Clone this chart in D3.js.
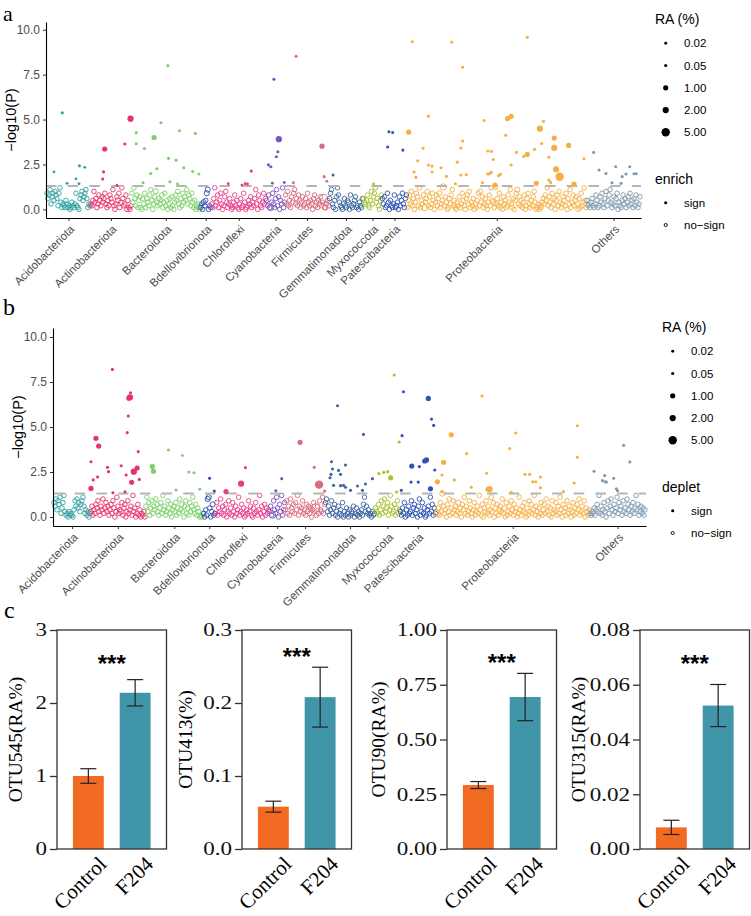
<!DOCTYPE html>
<html>
<head>
<meta charset="utf-8">
<script src="https://cdn.jsdelivr.net/npm/d3@7"></script>
<style>
  body { margin: 0; background: #fff; }
  svg { display: block; }
</style>
</head>
<body>
<svg id="fig" width="751" height="916"></svg>
<script>
// Manhattan plots (enriched / depleted OTUs by phylum) + four OTU bar charts.

const phyla = ['Acidobacteriota', 'Actinobacteriota', 'Bacteroidota', 'Bdellovibrionota', 'Chloroflexi',
  'Cyanobacteria', 'Firmicutes', 'Gemmatimonadota', 'Myxococcota', 'Patescibacteria', 'Proteobacteria', 'Others'];
const phylumColors = ['#33A0A0', '#E6336A', '#7CCF6A', '#2D4EA6', '#EA3C88', '#7B55BC',
  '#DA6A7E', '#3C66A2', '#A8C234', '#2F52B2', '#F6AE42', '#7F99AF'];

const raBreaks = [0.02, 0.05, 1, 2, 5];
const pTicks = [0, 2.5, 5, 7.5, 10];
const pThreshold = 1.301;

// non-significant OTUs, -log10(P) in plot order per phylum; [y, RA] where RA is not small
const enrichNoSign = [
  [0.9,0.6,0.8,1.1,0.3,0.7,0.9,0.5,1.0,0.8, 0.6,0.2,0.9,1.2,0.4,0.1,0.3,0.2,0.1,0.5,
   0.3,0.1,0.2,0.0,0.1,0.4,0.2,0.1,0.3,0.9, 0.2,0.1,0.0,0.6,0.8,1.0,0.5,0.7,0.9,1.1, 0.6,0.1,0.3,0.2],
  [0.3,0.2,0.5,1.0,0.4,0.6,0.1,0.3,0.8,0.5, 0.2,0.7,0.4,0.6,0.9,0.3,0.1,0.5,0.2,0.8,
   0.6,0.4,1.1,0.2,0.0,0.3,0.7,[0.5,1],0.9,0.1, 0.4,1.2,0.6,0.2,0.3,0.8,0.0,0.5,0.1,0.0, 0.2],
  [0.9,0.4,1.2,0.6,0.2,0.8,0.1,0.5,0.7,0.1, 0.0,0.6,0.3,0.9,0.1,0.6,0.4,0.2,0.8,1.1,
   0.5,0.0,0.3,0.7,[1.0,1],0.4,0.2,0.6,[0.3,1],0.5, 0.8,0.1,0.4,0.9,0.2,0.5,0.0,0.3,0.6,0.1,
   0.7,0.2,0.0,0.4,0.8,0.5,1.0,0.3,0.1,0.6, 0.2,0.9,0.4,0.7,0.5,1.1,0.3,0.8,0.6,0.2, 0.9,0.4,0.1,0.5,0.0,0.2,0.1,0.3,0.0],
  [0.1,0.3,0.0,[0.4,1],0.2,0.5,[0.9,1],[1.1,1],0.0,0.2,0.1],
  [0.3,0.1,0.6,1.2,0.2,0.4,0.8,0.1,0.5,0.9, 0.3,0.0,0.2,0.7,1.0,0.4,0.1,0.3,0.6,0.2,
   0.0,0.1,0.4,0.8,0.2,0.5,0.1,0.0,0.3,0.6, 0.1,0.2,0.9,0.4,0.0,0.1,0.2,0.5,0.3,0.7,
   0.1,0.4,0.2,0.6,1.1,0.3,0.0,0.8,0.5,0.2, 0.1,0.4,0.9,0.3,0.6],
  [0.5,0.2,0.8,0.1,[0.1,2],0.4,0.9,0.3,0.1,0.6, 1.1,0.2,0.7,0.0,0.5,0.3,1.2,0.1,0.4],
  [0.8,0.3,1.0,0.2,0.5,0.1,0.7,0.4,0.9,1.1, 0.3,0.6,0.2,0.8,0.5,0.1,0.4,0.7,0.2,0.3,
   0.6,0.1,0.9,0.4,0.2,0.5,0.3,0.0,0.6,0.8, 0.2,0.4,0.1,0.5,0.3,0.7,0.2,0.4,[0.6,5],0.1, [0.1,1],0.3,0.5,0.2],
  [0.6,0.9,1.1,0.3,0.1,0.5,0.0,0.7,1.2,0.8, 0.4,0.2,0.1,0.0,0.3,0.6,0.2,0.1,0.5,0.4,
   0.0,0.8,0.2,0.1,0.3,0.5,0.7,0.1,0.2,0.0, 0.4,0.2,0.1,0.6],
  [0.6,0.4,0.3,[0.5,1],0.8,0.2,0.1,0.5,1.0,0.3, 0.7,0.9,1.2,0.4,0.6,0.2,0.0,0.5,0.8],
  [0.6,0.3,0.7,0.1,0.2,0.9,0.4,0.0,0.5,0.2, 0.1,0.3,0.8,0.1,[0.2,1],0.4,0.0,0.7,0.2,0.5, 0.9,0.3,0.1,0.6,0.8],
  [0.1,0.5,0.8,0.3,1.0,0.2,0.6,0.0,0.4,0.9, 0.7,0.2,1.2,0.1,0.5,0.3,0.8,[0.1,2],0.4,0.6,
   1.0,0.2,0.7,0.1,0.3,0.9,0.5,0.0,0.4,0.8, 0.2,0.6,[0.9,1],0.1,0.3,0.5,[1.25,2],0.2,0.7,0.4,
   0.0,0.1,0.6,0.3,0.8,1.1,0.2,0.5,0.1,0.0, 0.4,0.2,0.7,0.1,0.3,0.9,0.5,0.2,0.0,0.6,
   0.8,0.3,1.0,0.1,0.4,0.2,0.6,0.0,0.3,0.1, 0.5,0.9,0.2,[1.0,1],0.4,0.7,0.1,0.3,0.6,0.2,
   0.0,0.4,0.8,0.2,1.2,0.5,[0.4,1],0.1,[1.25,1],0.3, 0.6,0.2,0.9,0.1,0.4,0.0,0.7,0.3,0.5,0.1,
   0.2,0.8,0.4,1.1,0.3,0.1,0.6,0.0,0.5,0.9, [1.1,1],0.3,0.7,0.2,0.5,0.1,0.4,0.8,0.0,0.2,
   0.6,0.9,0.3,0.1,0.5,0.2,0.7,1.0,0.4,0.0, 0.1,0.3,0.0,0.2,0.1,0.4,0.6,0.3,0.8,0.5,
   1.2,0.2,0.7,0.4,0.1,0.9,0.3,0.6,0.0,0.5, 0.8,0.2,1.0,0.4,0.1,0.3,0.7,0.5,0.2,0.9,
   0.0,0.6,0.3,1.1,0.1,0.4,0.8,0.2,0.5,0.7, 0.3,0.0,0.6,0.1,0.9,0.2,0.4,1.2,0.5,0.1],
  [0.5,0.2,0.3,0.1,0.4,0.6,0.2,0.1,0.3,0.8, 0.5,0.1,0.2,0.7,0.4,0.9,0.3,0.1,0.6,1.0,
   0.2,0.5,0.8,1.1,0.4,0.1,0.3,0.7,0.2,0.6, 0.9,0.0,0.4,0.2,0.1,0.5,0.8,0.3,0.6,0.1,
   0.4,0.7,0.2,0.9,0.3,0.5,0.1,0.6,0.2,0.8, 0.4,0.1,0.3,0.7]
];

// significant enriched OTUs: [phylum, position within phylum 0-1, -log10(P), RA %]
const enrichSign = [
  [0,0.36,5.38,0.05],[0,0.17,2.09,0.02],[0,0.75,2.43,0.05],[0,0.87,2.34,0.02],[0,0.67,1.70,0.02],
  [0,0.47,1.45,0.02],[0,0.74,1.43,0.02],
  [1,0.35,3.36,1],[1,0.32,2.09,0.05],[1,0.30,1.69,0.05],[1,0.84,3.64,0.05],[1,0.98,5.05,2],[1,0.65,1.33,0.02],
  [2,0.53,8.0,0.05],[2,0.07,4.27,0.05],[2,0.07,3.65,0.05],[2,0.19,3.39,0.05],[2,0.33,4.0,1],[2,0.43,4.82,0.05],
  [2,0.70,4.38,0.05],[2,0.93,4.23,0.05],[2,0.54,2.84,0.05],[2,0.65,2.74,0.05],[2,0.37,2.26,0.05],
  [2,0.76,2.32,0.05],[2,0.28,2.0,0.05],[2,0.89,2.11,0.05],[2,0.98,1.96,0.02],[2,0.56,1.54,0.05],
  [2,0.17,1.48,0.05],[2,0.67,1.41,0.02],
  [4,0.31,1.43,0.02],[4,0.62,1.43,0.02],[4,0.73,2.13,0.05],[4,0.56,1.35,0.02],[4,0.66,1.41,0.02],
  [5,0.41,7.24,0.05],[5,0.67,3.91,2],[5,0.62,3.21,0.05],[5,0.54,2.93,0.05],[5,0.12,2.48,0.05],
  [5,0.25,2.37,0.05],[5,0.33,1.46,0.02],[5,0.96,1.50,0.02],
  [6,0.25,8.52,0.05],[6,0.84,3.52,1],[6,0.89,1.82,0.05],[6,0.95,1.56,0.02],[6,0.19,1.48,0.02],
  [7,0.12,1.91,0.05],
  [8,0.56,1.41,0.02],
  [9,0.28,4.32,0.05],[9,0.43,4.28,0.05],[9,0.23,3.47,0.05],[9,0.84,3.30,0.05],
  [10,0.03,9.33,0.05],[10,0.25,9.31,0.05],[10,0.31,7.91,0.05],[10,0.12,5.19,0.05],[10,0.43,4.95,0.05],
  [10,0.01,4.30,1],[10,0.09,3.40,0.05],[10,0.31,3.80,0.05],[10,0.30,3.41,0.05],[10,0.28,2.63,0.05],
  [10,0.06,2.71,0.05],[10,0.12,2.47,0.05],[10,0.14,2.41,0.05],[10,0.19,2.32,0.05],[10,0.04,2.08,0.05],
  [10,0.14,2.08,0.05],[10,0.05,1.78,0.05],[10,0.22,1.84,0.05],[10,0.30,1.91,0.05],[10,0.33,1.93,0.05],
  [10,0.45,3.25,0.05],[10,0.45,1.97,0.05],[10,0.27,1.43,0.05],[10,0.42,1.48,0.05],
  [10,0.67,9.58,0.05],[10,0.56,5.05,1],[10,0.58,5.18,1],[10,0.76,4.9,0.05],[10,0.74,4.49,2],
  [10,0.55,4.12,0.05],[10,0.82,3.97,1],[10,0.75,3.67,0.05],[10,0.90,3.56,1],[10,0.82,3.43,2],
  [10,0.71,3.34,0.05],[10,0.61,3.17,0.05],[10,0.67,3.06,1],[10,0.65,2.95,0.05],[10,0.79,2.90,0.05],
  [10,0.47,3.23,0.05],[10,0.48,2.78,0.05],[10,0.985,2.82,0.05],[10,0.58,2.47,0.05],[10,0.83,2.23,2],
  [10,0.85,1.82,5],[10,0.47,2.07,0.05],[10,0.46,1.98,0.05],[10,0.52,1.95,0.05],[10,0.51,1.87,0.05],
  [10,0.79,1.63,0.05],[10,0.80,1.50,0.05],[10,0.49,1.35,1],[10,0.72,1.45,1],[10,0.93,1.41,1],
  [11,0.13,3.17,0.05],[11,0.54,2.37,0.05],[11,0.80,2.37,0.05],[11,0.23,2.19,0.05],[11,0.36,2.0,0.05],
  [11,0.66,1.82,0.05],[11,0.88,1.98,0.05],[11,0.92,1.98,0.05],[11,0.73,1.97,0.05],[11,0.64,1.45,0.05],
  [11,0.47,1.48,0.05]
];

const depletNoSign = [
  [0.8,0.6,1.0,0.4,0.9,0.7,1.1,0.2,0.5,0.8, 1.2,0.3,0.1,0.2,0.0,0.3,0.1,0.2,0.1,0.0,
   0.4,0.9,0.6,1.0,0.5,0.8,0.3,0.7,0.9,1.1, 0.6,0.2,0.4,0.1,0.3,0.0,0.2],
  [0.3,0.6,0.1,0.4,0.2,0.7,0.5,0.9,0.3,0.1, 0.6,0.4,1.0,0.2,0.5,0.8,0.3,0.6,0.1,0.4,
   0.7,0.2,0.9,0.5,0.0,0.3,1.1,0.6,0.2,0.4, [0.3,1],0.8,0.1,0.5,0.7,0.0,0.3,0.9,0.2,0.4,
   0.6,0.1,1.2,0.3,0.5,0.0,0.2,0.7,0.1,0.4, 0.0,0.2,0.1,0.3,0.0],
  [0.6,1.1,0.3,0.8,0.1,0.5,0.9,0.2,0.6,0.4, 1.0,0.7,0.3,0.1,0.5,0.8,0.2,1.2,0.4,0.6,
   0.1,0.3,0.9,0.5,0.2,0.7,0.0,0.4,0.6,0.3, 0.8,0.1,0.5,0.2,1.0,0.4,0.7,0.3,0.0,0.6,
   0.9,0.2,0.5,0.1,0.8,0.3,0.6,1.1,0.4,0.2, 0.7,0.1,0.5,0.3,0.0,0.1,0.0,0.2],
  [0.2,0.0,0.4,0.1,[1.0,1],[1.1,1],0.5,0.0,0.3,[0.7,1],0.1,0.2],
  [0.2,0.8,0.1,0.5,0.3,1.0,0.2,0.6,0.1,0.4, 0.7,0.0,0.3,0.9,0.2,0.5,0.1,0.8,0.3,0.0,
   0.6,0.2,0.4,1.1,0.1,0.3,0.7,0.2,0.5,0.0, 0.1,0.4,0.2,0.9,0.3,0.6,0.1,0.0,0.5,0.2,
   0.8,0.3,0.1,0.4,1.2,0.2,0.6,0.0,0.3,0.7, 0.1,0.5,0.2,0.4],
  [0.3,0.6,0.1,[0.1,2],0.9,0.4,0.2,1.1,0.5,0.0, 0.7,0.3,1.2,0.1,0.4,0.8],
  [0.4,0.9,0.2,0.6,0.1,1.0,0.5,0.3,0.7,0.2, 0.8,0.4,1.2,0.1,0.6,0.3,0.5,0.9,0.2,0.4,
   0.1,0.7,0.3,0.6,0.2,0.5,0.0,0.4,0.8,0.3, [0.5,5],0.1,0.6,0.2,0.9,0.4,0.3,1.1,0.2,0.7],
  [0.8,1.0,0.3,0.6,0.1,0.4,0.9,0.2,0.5,0.7, 0.1,0.3,0.0,0.6,0.2,0.4,0.1,0.8,0.0,0.3,
   0.1,0.5,0.2,0.0,0.4,0.1,0.3,0.2,0.6,0.0, 0.2,0.5,0.1,0.3,0.0,0.2,0.4,0.1,0.7,1.1,
   0.3,0.6,0.2,0.4,0.1,0.2,0.0,0.3,0.1,0.2],
  [0.5,[0.3,1],0.2,0.7,0.1,0.4,0.9,0.2,0.6,1.0, 0.3,[0.5,1],0.8,0.1,0.4,1.2,0.6,0.2,0.3,0.7, 0.1,0.5,0.9,0.2,0.4],
  [0.3,0.1,0.5,0.2,0.8,0.0,0.4,0.1,0.6,0.2, 0.3,0.9,0.1,0.5,0.7,0.2,0.4,0.0,0.6,1.0,
   0.1,0.3,0.8,0.2,0.5,0.0,0.1,0.4,0.6,0.2, 1.1,0.3,0.7,0.1,0.5,0.2],
  [0.2,[0.2,2],0.5,0.1,0.8,0.3,[1.3,1],0.6,0.2,0.4, 0.0,0.7,0.3,1.0,0.1,0.5,0.2,0.9,0.4,0.6,
   0.1,0.3,[0.8,1],0.2,0.5,0.0,0.7,0.4,1.1,0.2, 0.6,0.1,0.3,0.9,0.5,0.2,0.0,0.4,0.8,0.1,
   0.3,0.6,0.2,1.2,0.4,0.1,0.7,0.0,0.5,0.3, 0.9,0.2,0.6,0.1,0.4,[1.1,1],0.3,0.8,0.0,0.5,
   0.2,0.7,0.1,0.4,0.6,0.3,1.0,0.2,0.5,0.0, 0.8,0.1,0.3,0.6,0.2,0.9,0.4,0.1,0.7,0.3,
   0.5,0.0,0.2,1.1,0.4,0.1,0.6,0.3,0.8,0.2, 0.0,0.5,0.1,0.9,0.3,0.7,0.2,0.4,1.2,0.1,
   0.6,0.3,0.0,0.5,0.2,0.8,0.1,0.4,0.7,0.2, 1.0,0.3,0.6,0.1,0.5,0.0,0.9,0.2,0.4,0.3,
   0.8,0.1,0.6,0.2,1.1,0.4,0.0,0.7,0.3,0.5, 0.1,0.9,0.2,0.6,0.4,0.0,0.3,0.8,0.1,0.5,
   0.2,0.7,0.4,1.0,0.1,0.3,0.6,0.2,0.9,0.0, 0.5,0.3,0.1,0.4],
  [0.2,0.1,0.3,0.2,0.5,0.1,0.4,0.7,0.3,1.2, 0.2,0.6,0.1,0.4,0.8,0.3,0.0,0.5,0.9,0.2,
   0.6,1.0,0.4,0.1,0.7,0.3,0.5,1.1,0.2,0.8, 0.4,0.6,0.1,0.9,0.3,0.5,0.2,1.0,0.7,0.4,
   0.1,0.6,0.3,0.8,0.2,0.5,1.2,0.4,0.7,0.1, 0.3,0.6,0.2,0.5,0.1,0.4]
];

const depletSign = [
  [1,0.40,8.2,0.05],[1,0.73,6.9,0.05],[1,0.72,6.65,2],[1,0.70,6.6,1],[1,0.69,5.61,0.05],[1,0.67,4.69,0.05],
  [1,0.10,4.37,1],[1,0.15,3.94,1],[1,0.87,3.63,0.05],[1,0.01,3.07,0.05],[1,0.56,2.85,0.05],[1,0.31,2.76,0.05],
  [1,0.33,2.52,0.05],[1,0.85,2.72,1],[1,0.79,2.52,2],[1,0.65,2.33,0.05],[1,0.13,2.22,0.05],[1,0.05,2.06,0.05],
  [1,0.89,2.09,0.05],[1,0.75,1.93,1],[1,0.01,1.59,1],[1,0.41,1.35,0.05],[1,0.63,1.40,0.05],
  [2,0.40,3.72,0.05],[2,0.64,3.41,0.02],[2,0.12,2.81,1],[2,0.14,2.54,1],[2,0.75,2.5,0.05],[2,0.84,2.46,0.05],
  [2,0.53,1.5,0.05],[2,0.94,1.54,0.02],
  [3,0.53,2.15,0.05],[3,0.92,1.44,0.05],
  [4,0.56,2.74,0.05],[4,0.48,1.85,2],[4,0.20,1.41,1],
  [5,0.79,2.13,0.05],[5,0.42,1.46,0.05],
  [6,0.375,4.15,1],[6,0.73,2.76,0.05],[6,0.85,1.80,5],[6,0.99,1.44,0.05],
  [7,0.25,6.18,0.05],[7,0.77,4.59,0.05],[7,0.13,3.07,0.05],[7,0.15,2.67,0.05],[7,0.27,2.59,0.05],
  [7,0.41,2.89,0.05],[7,0.31,2.37,0.05],[7,0.12,2.37,0.05],[7,0.10,2.18,0.05],[7,0.17,1.76,0.05],
  [7,0.31,1.74,0.05],[7,0.37,1.76,0.05],[7,0.41,1.65,0.05],[7,0.51,1.48,0.05],[7,0.65,1.72,0.05],
  [7,0.81,1.83,0.05],[7,0.75,1.48,0.05],[7,0.95,2.13,0.05],
  [8,0.77,7.89,0.05],[8,0.97,4.17,0.05],[8,0.16,2.41,0.05],[8,0.35,2.48,0.05],[8,0.51,2.52,0.05],
  [8,0.63,2.18,1],[8,0.87,1.39,0.05],
  [9,0.10,6.96,0.05],[9,0.79,6.59,1],[9,0.88,5.44,0.05],[9,0.94,5.09,0.05],[9,0.06,4.52,0.05],
  [9,0.33,2.83,1],[9,0.69,3.11,1],[9,0.74,3.17,1],[9,0.54,2.80,0.05],[9,0.97,2.61,0.05],
  [9,0.31,1.94,0.05],[9,0.51,1.94,0.05],[9,0.85,1.57,1],[9,0.04,1.48,0.05],
  [10,0.30,6.72,0.05],[10,0.10,4.57,1],[10,0.20,3.52,0.05],[10,0.05,3.04,1],[10,0.04,2.33,0.05],
  [10,0.33,2.43,0.05],[10,0.01,1.96,1],[10,0.12,2.06,0.05],[10,0.04,1.41,0.05],[10,0.23,1.65,0.05],
  [10,0.34,1.54,1],[10,0.92,5.07,0.05],[10,0.52,4.67,0.05],[10,0.48,3.80,0.05],[10,0.92,3.32,0.05],
  [10,0.58,2.37,0.05],[10,0.61,2.37,0.05],[10,0.68,2.22,0.05],[10,0.63,1.96,0.05],[10,0.65,1.96,0.05],
  [10,0.90,1.89,0.05],[10,0.35,1.55,2],[10,0.68,1.63,0.05],[10,0.83,1.41,0.05],[10,0.49,1.37,0.05],
  [11,0.61,3.98,0.05],[11,0.72,3.06,0.05],[11,0.08,2.54,0.05],[11,0.27,2.30,0.05],[11,0.23,2.02,0.05],
  [11,0.28,1.96,0.05],[11,0.30,1.94,0.05],[11,0.43,2.15,0.05],[11,0.48,1.57,0.05],[11,0.50,1.46,0.05]
];

// panel c
const barGroups = ['Control', 'F204'];
const barColors = ['#F26B22', '#4195A9'];
const otuLabels = ['OTU545(RA%)', 'OTU413(%)', 'OTU90(RA%)', 'OTU315(RA%)'];
const otuMeans = [[1.0, 2.14], [0.058, 0.208], [0.292, 0.694], [0.0079, 0.0524]];
const otuErrors = [[0.10, 0.18], [0.0075, 0.041], [0.016, 0.108], [0.0026, 0.0077]];
const otuMax = [3, 0.3, 1, 0.08];
const otuTicks = [[0, 1, 2, 3], [0, 0.1, 0.2, 0.3], [0, 0.25, 0.5, 0.75, 1], [0, 0.02, 0.04, 0.06, 0.08]];
const otuTickFormats = ['d', '.1f', '.2f', '.2f'];
const otuSignif = ['***', '***', '***', '***'];

const SANS = '"Liberation Sans", Arial, Helvetica, sans-serif';
const SERIF = '"Liberation Serif", "Times New Roman", serif';
const HOLLOW_RA = 0.6;

const svg = d3.select('#fig');
const rScale = d3.scaleSqrt().domain([0.02, 5]).range([1.45, 4.2]);

function drawManhattan(opts) {
  const { noSign, sign, left, right, top, bottom, yDomain, legendX, legendY, legendTitle } = opts;
  const g = svg.append('g');

  // phylum extents on the OTU index axis
  const starts = [];
  let total = 0;
  noSign.forEach(arr => { starts.push(total); total += arr.length; });

  const x = d3.scaleLinear().domain([-0.5, total + 0.5]).range([left, right]);
  const y = d3.scaleLinear().domain(yDomain).range([bottom, top]);

  const hollow = [];
  noSign.forEach((arr, p) => {
    arr.forEach((v, j) => {
      const d = Array.isArray(v) ? { y: v[0], ra: v[1] } : { y: v, ra: HOLLOW_RA };
      hollow.push({ p, idx: starts[p] + j + 0.5, y: d.y, ra: d.ra });
    });
  });

  g.append('g').selectAll('circle')
    .data(hollow)
    .join('circle')
    .attr('cx', d => x(d.idx))
    .attr('cy', d => y(d.y))
    .attr('r', d => rScale(d.ra))
    .attr('fill', 'none')
    .attr('stroke', d => phylumColors[d.p])
    .attr('stroke-width', 0.9);

  g.append('line')
    .attr('x1', left).attr('x2', right)
    .attr('y1', y(pThreshold)).attr('y2', y(pThreshold))
    .attr('stroke', '#B5B5B5')
    .attr('stroke-width', 2)
    .attr('stroke-dasharray', '10.5,11.2');

  g.append('g').selectAll('circle')
    .data(sign)
    .join('circle')
    .attr('cx', d => x(starts[d[0]] + d[1] * noSign[d[0]].length))
    .attr('cy', d => y(d[2]))
    .attr('r', d => rScale(d[3]))
    .attr('fill', d => phylumColors[d[0]]);

  // y axis
  const yAxis = g.append('g')
    .attr('transform', `translate(${left},0)`)
    .call(d3.axisLeft(y).tickValues(pTicks).tickFormat(d3.format('.1f')).tickSize(3).tickSizeOuter(0));
  yAxis.select('.domain').attr('stroke', '#000').attr('stroke-width', 1.1);
  yAxis.selectAll('.tick line').attr('stroke', '#333');
  yAxis.selectAll('text').attr('fill', '#4D4D4D').style('font', `12px ${SANS}`);

  g.append('text')
    .attr('transform', `translate(${left - 35},${(top + bottom) / 2}) rotate(-90)`)
    .attr('text-anchor', 'middle')
    .attr('dy', '0.35em')
    .style('font', `14.5px ${SANS}`)
    .text('\u2212log10(P)');

  // x axis with phylum ticks at group centres
  const centers = noSign.map((arr, p) => starts[p] + arr.length / 2);
  const xAxis = g.append('g')
    .attr('transform', `translate(0,${bottom})`)
    .call(d3.axisBottom(x).tickValues(centers).tickFormat((d, i) => phyla[i]).tickSize(3).tickSizeOuter(0));
  xAxis.select('.domain').attr('stroke', '#000').attr('stroke-width', 1.1);
  xAxis.selectAll('.tick line').attr('stroke', '#333');
  xAxis.selectAll('text')
    .attr('x', 0).attr('y', 0).attr('dy', 0)
    .attr('text-anchor', 'end')
    .attr('transform', 'translate(6,12) rotate(-45)')
    .attr('fill', '#4D4D4D')
    .style('font', `11.5px ${SANS}`);

  // legends
  const lg = g.append('g').attr('transform', `translate(${legendX},${legendY})`);
  lg.append('text').attr('x', 0).attr('y', 24).style('font', `14px ${SANS}`).text('RA (%)');
  raBreaks.forEach((b, i) => {
    const cy = 43.3 + i * 22.25;
    lg.append('circle').attr('cx', 10.7).attr('cy', cy).attr('r', rScale(b)).attr('fill', '#000');
    lg.append('text').attr('x', 29).attr('y', cy).attr('dy', '0.35em')
      .style('font', `11.5px ${SANS}`).text(d3.format('.2f')(b));
  });
  lg.append('text').attr('x', 0).attr('y', 184).style('font', `14px ${SANS}`).text(legendTitle);
  lg.append('circle').attr('cx', 10.7).attr('cy', 202.7).attr('r', rScale(0.05)).attr('fill', '#000');
  lg.append('text').attr('x', 29).attr('y', 202.7).attr('dy', '0.35em').style('font', `11.5px ${SANS}`).text('sign');
  lg.append('circle').attr('cx', 10.7).attr('cy', 225).attr('r', rScale(0.05))
    .attr('fill', 'none').attr('stroke', '#000').attr('stroke-width', 0.9);
  lg.append('text').attr('x', 29).attr('y', 225).attr('dy', '0.35em').style('font', `11.5px ${SANS}`).text('no\u2212sign');
}

drawManhattan({
  noSign: enrichNoSign, sign: enrichSign,
  left: 46, right: 641, top: 22, bottom: 218, yDomain: [-0.48, 10.43],
  legendX: 655, legendY: 0, legendTitle: 'enrich'
});

drawManhattan({
  noSign: depletNoSign, sign: depletSign,
  left: 53, right: 646, top: 328, bottom: 526, yDomain: [-0.5, 10.5],
  legendX: 662, legendY: 308, legendTitle: 'deplet'
});

// panel letters
svg.append('text').attr('x', 3).attr('y', 21).style('font', `22px ${SERIF}`).text('a');
svg.append('text').attr('x', 3).attr('y', 315).style('font', `24px ${SERIF}`).text('b');
svg.append('text').attr('x', 4).attr('y', 618).style('font', `24px ${SERIF}`).text('c');

// panel c bar charts
const frameLefts = [57, 242, 447, 640];
const labelCenters = [15, 185, 378, 578];
const frameW = 109.5, frameTop = 630, frameBottom = 849;
const TICK_STRETCH = 1.28;

otuLabels.forEach((label, i) => {
  const g = svg.append('g');
  const x0 = frameLefts[i];
  const x = d3.scaleBand().domain(barGroups).range([x0, x0 + frameW]).paddingInner(0.34).paddingOuter(0.34);
  const y = d3.scaleLinear().domain([0, otuMax[i]]).range([frameBottom, frameTop]);

  g.selectAll('rect.bar')
    .data(barGroups)
    .join('rect')
    .attr('class', 'bar')
    .attr('x', d => x(d))
    .attr('y', (d, k) => y(otuMeans[i][k]))
    .attr('width', x.bandwidth())
    .attr('height', (d, k) => frameBottom - y(otuMeans[i][k]))
    .attr('fill', (d, k) => barColors[k]);

  barGroups.forEach((grp, k) => {
    const cx = x(grp) + x.bandwidth() / 2;
    const lo = y(otuMeans[i][k] - otuErrors[i][k]);
    const hi = y(otuMeans[i][k] + otuErrors[i][k]);
    const eg = g.append('g').attr('stroke', '#222').attr('stroke-width', 1.2);
    eg.append('line').attr('x1', cx).attr('x2', cx).attr('y1', lo).attr('y2', hi);
    eg.append('line').attr('x1', cx - 8).attr('x2', cx + 8).attr('y1', lo).attr('y2', lo);
    eg.append('line').attr('x1', cx - 8).attr('x2', cx + 8).attr('y1', hi).attr('y2', hi);

    g.append('text')
      .attr('transform', `translate(${cx + 9},${frameBottom + 6}) rotate(-45)`)
      .attr('text-anchor', 'end')
      .attr('dy', '0.7em')
      .style('font', `21px ${SERIF}`)
      .text(grp);
  });

  g.append('rect')
    .attr('x', x0).attr('y', frameTop)
    .attr('width', frameW).attr('height', frameBottom - frameTop)
    .attr('fill', 'none').attr('stroke', '#333').attr('stroke-width', 1.3);

  const axis = g.append('g')
    .attr('transform', `translate(${x0},0)`)
    .call(d3.axisLeft(y).tickValues(otuTicks[i]).tickFormat(d3.format(otuTickFormats[i])).tickSize(7).tickPadding(3));
  axis.select('.domain').remove();
  axis.selectAll('.tick line').attr('stroke', '#333').attr('stroke-width', 1.3);
  axis.selectAll('text')
    .attr('x', -10 / TICK_STRETCH)
    .attr('transform', `scale(${TICK_STRETCH},1)`)
    .attr('fill', '#111')
    .style('font', `18px ${SERIF}`);

  g.append('text')
    .attr('transform', `translate(${labelCenters[i]},${(frameTop + frameBottom) / 2}) rotate(-90)`)
    .attr('text-anchor', 'middle')
    .attr('dy', '0.35em')
    .style('font', `19.5px ${SERIF}`)
    .text(label);

  const errTop = y(otuMeans[i][1] + otuErrors[i][1]);
  g.append('text')
    .attr('x', x0 + frameW / 2)
    .attr('y', Math.min(658, errTop - 16) + 14)
    .attr('text-anchor', 'middle')
    .style('font', `bold 24px ${SANS}`)
    .text(otuSignif[i]);
});
</script>
</body>
</html>
